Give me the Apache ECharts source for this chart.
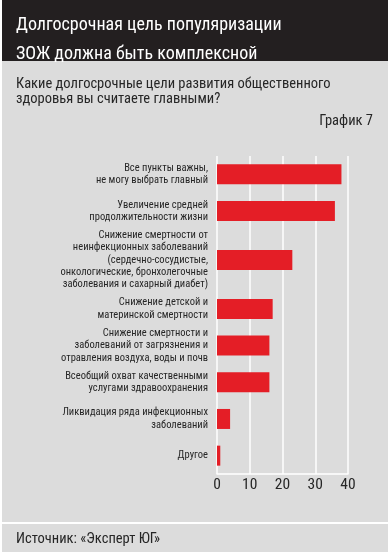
<!DOCTYPE html>
<html>
<head>
<meta charset="utf-8">
<script src="https://cdn.jsdelivr.net/npm/echarts@6/dist/echarts.min.js"></script>
<style>
html,body{margin:0;padding:0;background:#fff;}
#c{width:388px;height:552px;}
</style>
</head>
<body>
<div id="c"></div>
<script>
var categories = [
  "Все пункты важны,\nне могу выбрать главный",
  "Увеличение средней\nпродолжительности жизни",
  "Снижение смертности от\nнеинфекционных заболеваний\n(сердечно-сосудистые,\nонкологические, бронхолегочные\nзаболевания и сахарный диабет)",
  "Снижение детской и\nматеринской смертности",
  "Снижение смертности и\nзаболеваний от загрязнения и\nотравления воздуха, воды и почв",
  "Всеобщий охват качественными\nуслугами здравоохранения",
  "Ликвидация ряда инфекционных\nзаболеваний",
  "Другое"
];
var values = [38, 36, 23, 17, 16, 16, 4, 1];
var xTicks = [0, 10, 20, 30, 40];

var FONT = '"Roboto Condensed", "DejaVu Sans Condensed", sans-serif';

// Build a padded category axis so that categories with taller labels get more room.
function lineCount(s) { return s.split('\n').length; }
var axisData = [''];
var axisValues = [null];
categories.forEach(function (c, i) {
  axisData.push(c);
  axisValues.push(values[i]);
  if (i < categories.length - 1) {
    var gap = Math.max(3, Math.ceil((lineCount(c) + lineCount(categories[i + 1])) / 2));
    for (var k = 1; k < gap; k++) { axisData.push(''); axisValues.push(null); }
  }
});
axisData.push(''); axisValues.push(null);

var chart = echarts.init(document.getElementById('c'), null, {renderer: 'canvas'});
chart.setOption({
  animation: false,
  backgroundColor: '#ffffff',
  graphic: [
    {type: 'rect', left: 2, top: 0, shape: {width: 386, height: 61}, style: {fill: '#231f20'}, z: -10},
    {type: 'rect', left: 2, top: 61, shape: {width: 386, height: 461}, style: {fill: '#dcdcdc'}, z: -10},
    {type: 'rect', left: 2, top: 524, shape: {width: 386, height: 28}, style: {fill: '#dcdcdc'}, z: -10}
  ],
  title: [
    {text: 'Долгосрочная цель популяризации\nЗОЖ должна быть комплексной', left: 11, top: 6,
     textStyle: {color: '#ffffff', fontFamily: FONT, fontSize: 18, fontWeight: 'normal', lineHeight: 29}},
    {text: 'Какие долгосрочные цели развития общественного\nздоровья вы считаете главными?', left: 11, top: 72,
     textStyle: {color: '#262626', fontFamily: FONT, fontSize: 14.5, fontWeight: 'normal', lineHeight: 15}},
    {text: 'График 7', right: 10, top: 109,
     textStyle: {color: '#262626', fontFamily: FONT, fontSize: 14.5, fontWeight: 'normal'}},
    {text: 'Источник: «Эксперт ЮГ»', left: 11, top: 527,
     textStyle: {color: '#262626', fontFamily: FONT, fontSize: 14.5, fontWeight: 'normal'}}
  ],
  grid: {left: 217, right: 40, top: 156, bottom: 78, containLabel: false},
  xAxis: {
    type: 'value', min: xTicks[0], max: xTicks[xTicks.length - 1], interval: 10,
    axisLine: {show: true, lineStyle: {color: '#ffffff', width: 1.5}},
    axisTick: {show: false},
    splitLine: {show: true, lineStyle: {color: '#ffffff', width: 1.5}},
    axisLabel: {color: '#262626', fontFamily: FONT, fontSize: 15.5, margin: 3}
  },
  yAxis: {
    type: 'category', inverse: true, data: axisData,
    axisLine: {show: false}, axisTick: {show: false},
    axisLabel: {interval: 0, color: '#262626', fontFamily: FONT, fontSize: 10.5, lineHeight: 12.3, margin: 9, align: 'right'}
  },
  series: [{
    type: 'bar', data: axisValues, barWidth: 20,
    itemStyle: {color: '#e41e26'}
  }]
});
</script>
</body>
</html>
